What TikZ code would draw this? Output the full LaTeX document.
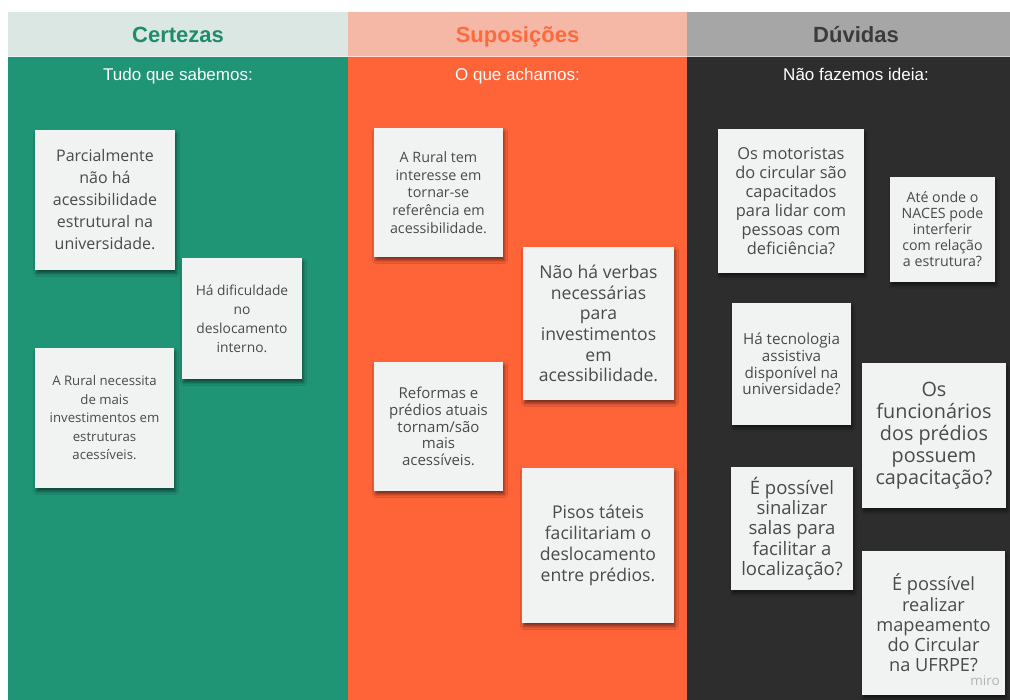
\documentclass[tikz,border=0pt]{standalone}
\usepackage{fontspec}
\setmainfont{Open Sans}
\newfontfamily\headfont{Liberation Sans}
\usetikzlibrary{shadows.blur}

\definecolor{greenbody}{HTML}{1F9576}
\definecolor{greenhead}{HTML}{DAE7E3}
\definecolor{greentitle}{HTML}{1F8C6C}
\definecolor{orangebody}{HTML}{FF6338}
\definecolor{orangehead}{HTML}{F5B8A7}
\definecolor{orangetitle}{HTML}{FF6A3D}
\definecolor{darkbody}{HTML}{2D2D2D}
\definecolor{darkhead}{HTML}{A6A6A6}
\definecolor{darktitle}{HTML}{3B3B3B}
\definecolor{notefill}{HTML}{F1F2F2}
\definecolor{notetext}{HTML}{4A4A4A}

\begin{document}
\begin{tikzpicture}[x=1pt, y=-1pt,
  headtitle/.style={inner sep=0pt, anchor=base, font=\headfont\bfseries\fontsize{22}{26}\selectfont},
  subtitle/.style={inner sep=0pt, anchor=base, text=white, font=\headfont\fontsize{17}{20}\selectfont},
  note/.style={fill=notefill, text=notetext, inner sep=0pt, align=center,
    blur shadow={shadow xshift=1.5pt, shadow yshift=-3.5pt,
                 shadow blur radius=3pt, shadow opacity=50}},
  nsize/.style 2 args={font=\fontsize{#1}{#2}\selectfont},
  nbox/.style 2 args={minimum width=#1, minimum height=#2}
]
\clip (0,0) rectangle (1010,700);
\fill[white] (0,0) rectangle (1010,700);

% column bodies
\fill[greenbody]  (8,57)   rectangle (348,700);
\fill[orangebody] (348,57) rectangle (687,700);
\fill[darkbody]   (687,57) rectangle (1025,700);

% column headers
\fill[greenhead]  (8,12)   rectangle (348,57);
\fill[orangehead] (348,12) rectangle (687,57);
\fill[darkhead]   (687,12) rectangle (1025,57);
\draw[white, opacity=0.5, line width=1pt] (8,57) -- (1025,57);

\node[headtitle, text=greentitle]  (hCert) at (178,43)   {Certezas};
\node[headtitle, text=orangetitle] (hSup)  at (517.5,43) {Suposições};
\node[headtitle, text=darktitle]   (hDuv)  at (856,43)   {Dúvidas};

\node[subtitle] (sCert) at (178,80.5)   {Tudo que sabemos:};
\node[subtitle] (sSup)  at (517.5,80.5) {O que achamos:};
\node[subtitle] (sDuv)  at (856,80.5)   {Não fazemos ideia:};

% Certezas
\node[note, nbox={140pt}{140pt}, nsize={16}{22}] (c1) at (105,200)
  {Parcialmente\\não há\\acessibilidade\\estrutural na\\universidade.};
\node[note, nbox={120pt}{121pt}, nsize={13.8}{19}] (c2) at (242,318.5)
  {Há dificuldade\\no\\deslocamento\\interno.};
\node[note, nbox={139pt}{140pt}, nsize={13.2}{18.5}] (c3) at (104.5,418)
  {A Rural necessita\\de mais\\investimentos em\\estruturas\\acessíveis.};

% Suposições
\node[note, nbox={129pt}{129pt}, nsize={14.3}{17.7}] (s1) at (438.5,192.5)
  {A Rural tem\\interesse em\\tornar-se\\referência em\\acessibilidade.};
\node[note, nbox={151pt}{153pt}, nsize={17.6}{20.7}] (s2) at (598.5,323.5)
  {Não há verbas\\necessárias\\para\\investimentos\\em\\acessibilidade.};
\node[note, nbox={129pt}{129pt}, nsize={15}{16.7}] (s3) at (438.5,426.5)
  {Reformas e\\prédios atuais\\tornam/são\\mais\\acessíveis.};
\node[note, nbox={152pt}{155pt}, nsize={17.6}{21}] (s4) at (598,545.5)
  {Pisos táteis\\facilitariam o\\deslocamento\\entre prédios.};

% Dúvidas
\node[note, nbox={146pt}{144pt}, nsize={16.4}{19}] (d1) at (791,201)
  {Os motoristas\\do circular são\\capacitados\\para lidar com\\pessoas com\\deficiência?};
\node[note, nbox={105pt}{105pt}, nsize={14.2}{16}] (d2) at (942.5,229.5)
  {Até onde o\\NACES pode\\interferir\\com relação\\a estrutura?};
\node[note, nbox={119pt}{122pt}, nsize={15.2}{16.7}] (d3) at (791.5,364)
  {Há tecnologia\\assistiva\\disponível na\\universidade?};
\node[note, nbox={144pt}{145pt}, nsize={19.8}{22}] (d4) at (934,435.5)
  {Os\\funcionários\\dos prédios\\possuem\\capacitação?};
\node[note, nbox={122pt}{123pt}, nsize={18.5}{20.3}] (d5) at (792,528.5)
  {É possível\\sinalizar\\salas para\\facilitar a\\localização?};
\node[note, nbox={143pt}{144pt}, nsize={18.2}{20.3}] (d6) at (933.5,623)
  {É possível\\realizar\\mapeamento\\do Circular\\na UFRPE?};

\node[inner sep=0pt, text=black!30, font=\fontsize{13.5}{15}\selectfont] (miro) at (985,681) {miro};
\end{tikzpicture}
\end{document}
